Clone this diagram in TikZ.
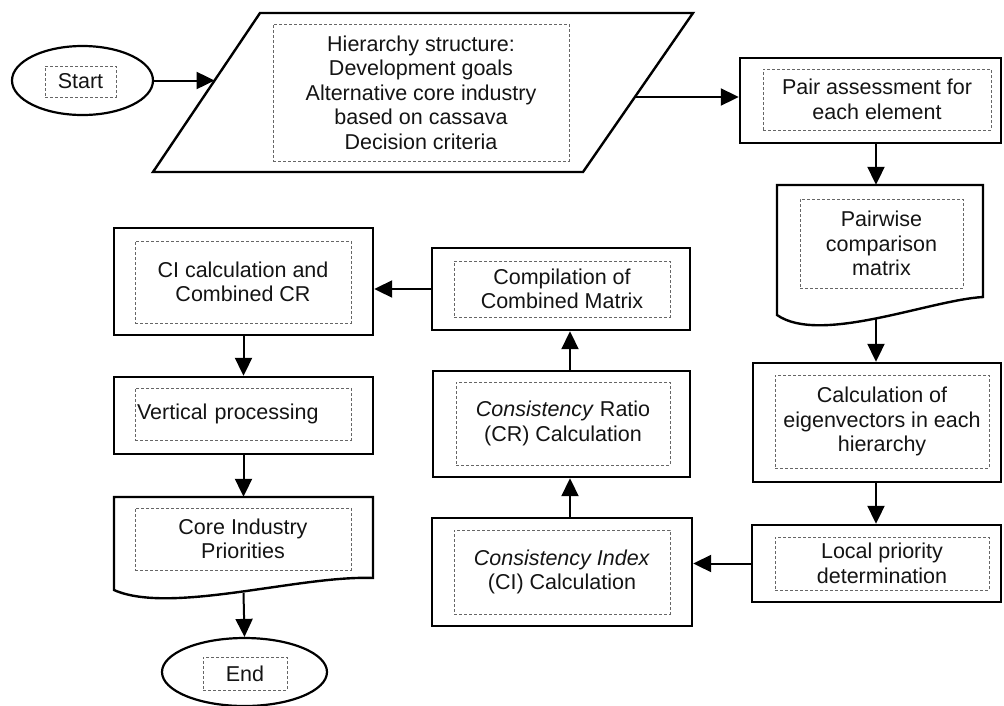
\documentclass[tikz,border=0pt]{standalone}
\usepackage{fontspec}
\setmainfont{Liberation Sans}
\usetikzlibrary{shapes.geometric,arrows.meta,calc}
\begin{document}
\begin{tikzpicture}[x=1pt,y=-1pt,
  outer/.style={draw=black, line width=2.4pt, rectangle, inner sep=0pt},
  shell/.style={draw=none, rectangle, inner sep=0pt},
  term/.style={draw=black, ellipse, line width=2.2pt, inner sep=0pt},
  inbox/.style={draw=black!60, line width=0.9pt, dash pattern=on 3pt off 2pt,
     rectangle, inner sep=2pt, align=center, text=black!92,
     font=\fontsize{21.5}{24.5}\selectfont},
  arr/.style={line width=2pt, -{Triangle[length=18pt,width=17pt]}},
  frame/.style={line width=2.4pt, line join=miter}
]
\useasboundingbox (0,0) rectangle (1004,705);

% Start
\node[term, minimum width=141pt, minimum height=69pt] (start) at (82.5,80.5) {};
\node[inbox, minimum width=71pt, minimum height=31pt] (startt) at (80.5,81.5) {Start};

% Hierarchy parallelogram
\draw[frame] (153,172) -- (260,13) -- (693,13) -- (583,172) -- cycle;
\coordinate (hin) at (214.6,80.5);
\coordinate (hout) at (635,97);
\node[inbox, minimum width=296pt, minimum height=137pt] (hier) at (421,92.5)
  {Hierarchy structure:\\Development goals\\Alternative core industry\\based on cassava\\Decision criteria};

% Pair assessment
\node[outer, minimum width=261pt, minimum height=85pt] (pair) at (870.5,100.5) {};
\node[inbox, minimum width=228pt, minimum height=61pt] (pairt) at (877,99.5) {Pair assessment for\\each element};

% Pairwise comparison matrix (document)
\node[shell, minimum width=206pt, minimum height=130pt] (pw) at (880,250) {};
\draw[frame] (777,315) -- (777,185) -- (983,185) -- (983,297)
   .. controls (930,300) and (820,345) .. (777,315) -- cycle;
\node[inbox, minimum width=163pt, minimum height=89pt] (pwt) at (881.5,243.5) {Pairwise\\comparison\\matrix};
\coordinate (pwb) at (876,319);

% Eigenvectors
\node[outer, minimum width=248pt, minimum height=119pt] (eig) at (877,422.5) {};
\node[inbox, minimum width=214pt, minimum height=93pt] (eigt) at (882,421.5) {Calculation of\\eigenvectors in each\\hierarchy};

% Local priority
\node[outer, minimum width=249pt, minimum height=77pt] (local) at (876.5,563.5) {};
\node[inbox, minimum width=214pt, minimum height=53pt] (localt) at (882,563.5) {Local priority\\determination};

% CI calculation
\node[outer, minimum width=260pt, minimum height=108pt] (ci) at (562,572) {};
\node[inbox, minimum width=216pt, minimum height=84pt] (cit) at (562,572) {\textit{Consistency Index}\\(CI) Calculation};

% CR calculation
\node[outer, minimum width=257pt, minimum height=106pt] (cr) at (561.5,424) {};
\node[inbox, minimum width=214pt, minimum height=83pt] (crt) at (563,423.5) {\textit{Consistency} Ratio\\(CR) Calculation};

% Compilation
\node[outer, minimum width=258pt, minimum height=82pt] (comp) at (561,289) {};
\node[inbox, minimum width=216pt, minimum height=56pt] (compt) at (562,289) {Compilation of\\Combined Matrix};

% CI calculation and combined CR
\node[outer, minimum width=259pt, minimum height=107pt] (cicr) at (243.5,281.5) {};
\node[inbox, minimum width=216pt, minimum height=82pt] (cicrt) at (243,282) {CI calculation and\\Combined CR};

% Vertical processing
\node[outer, minimum width=259pt, minimum height=77pt] (vert) at (243.5,415.5) {};
\node[inbox, minimum width=216pt, minimum height=52pt, text width=212pt, align=left] (vertt) at (243,414) {Vertical processing};

% Core industry priorities (document)
\node[shell, minimum width=259pt, minimum height=93pt] (core) at (243.5,543.5) {};
\draw[frame] (114,590) -- (114,497) -- (373,497) -- (373,578)
   .. controls (300,575) and (170,615) .. (114,590) -- cycle;
\node[inbox, minimum width=216pt, minimum height=62pt] (coret) at (243,539) {Core Industry\\Priorities};
\coordinate (coreb) at (243.5,593);

% End
\node[term, minimum width=165pt, minimum height=68pt] (end) at (244.5,672) {};
\node[inbox, minimum width=84pt, minimum height=33pt] (endt) at (245,673.5) {End};

% Connectors
\coordinate (rc) at (876,0);
\coordinate (mc) at (570,0);
\draw[arr] (start.east) -- (hin);
\draw[arr] (hout) -- (hout -| pair.west);
\draw[arr] (pair.south -| rc) -- (pw.north -| rc);
\draw[arr] (pwb) -- (eig.north -| rc);
\draw[arr] (eig.south -| rc) -- (local.north -| rc);
\draw[arr] (local.west) -- (local.west -| ci.east);
\draw[arr] (ci.north -| mc) -- (cr.south -| mc);
\draw[arr] (cr.north -| mc) -- (comp.south -| mc);
\draw[arr] (comp.west) -- (comp.west -| cicr.east);
\draw[arr] (cicr.south) -- (vert.north);
\draw[arr] (vert.south) -- (core.north);
\draw[arr] (coreb) -- (end.north);
\end{tikzpicture}
\end{document}
